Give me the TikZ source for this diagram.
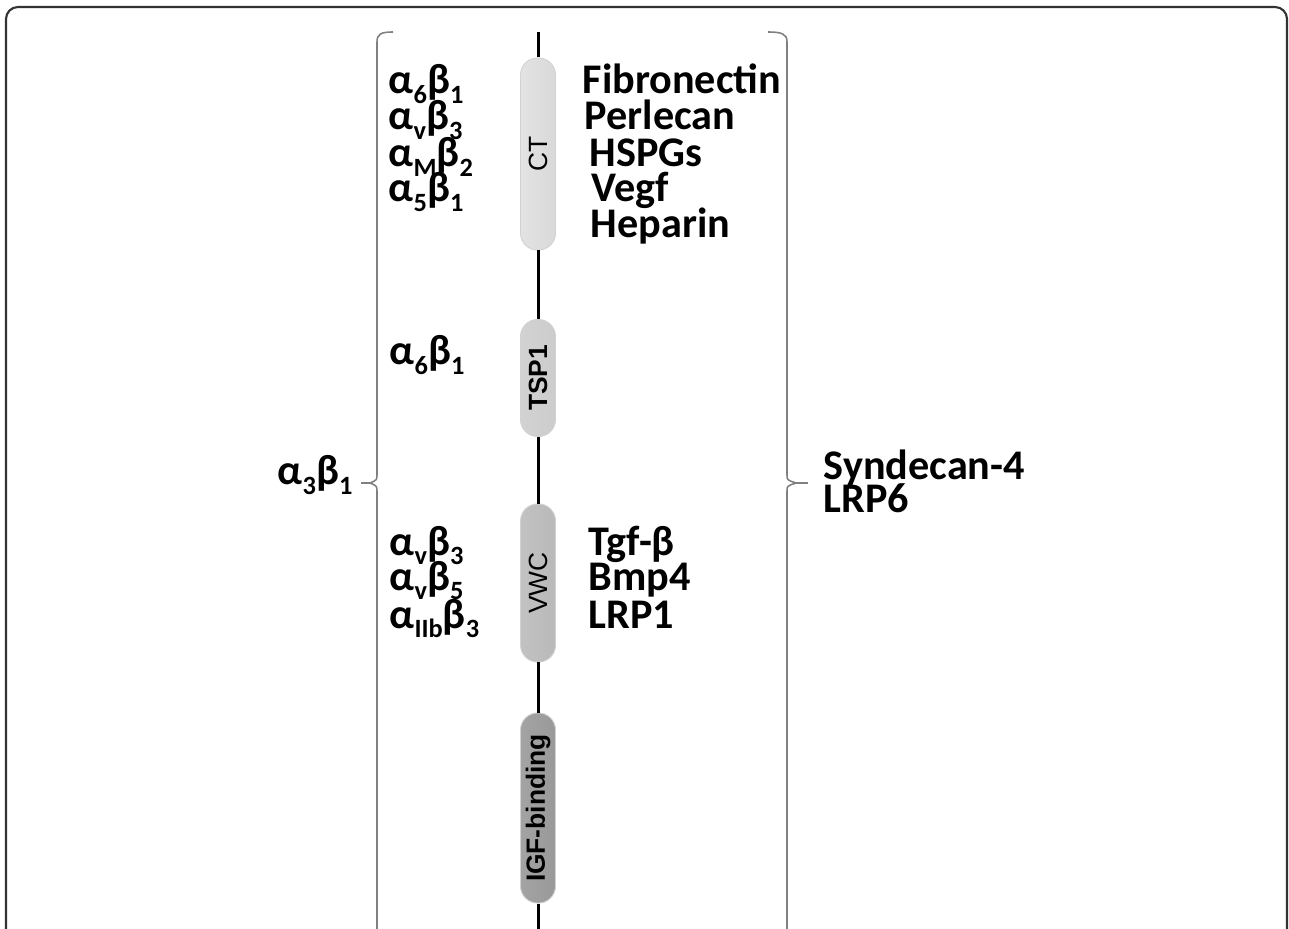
\documentclass[tikz,border=0pt]{standalone}
\usepackage{fontspec}
\setmainfont{Carlito}
\newfontfamily\capsfont{Liberation Sans}
\usetikzlibrary{positioning}
\definecolor{framegray}{HTML}{333333}
\definecolor{bracegray}{HTML}{808080}
\newcommand{\sbs}[1]{\raisebox{-2.6pt}{\fontsize{7.5}{8}\selectfont #1}}
\newcommand{\intg}[2]{α\sbs{#1}β\sbs{#2}}

\begin{document}
\begin{tikzpicture}[x=0.01cm, y=-0.01cm,
    lbl/.style={font=\bfseries\fontsize{12}{13}\selectfont, inner sep=0pt, anchor=base west},
    capsule/.style={minimum width=0.35cm, inner sep=0pt,
        rounded corners=0.17cm, draw=gray!35, line width=0.25pt,
        font=\capsfont\fontsize{7.5}{8}\selectfont},
    chain/.style={line width=0.85pt},
    brace/.style={bracegray, line width=0.45pt}]
    \useasboundingbox (0,0) rectangle (1289,928);
    \clip (0,0) rectangle (1289,928);

    % Outer frame
    \draw[framegray, line width=0.6pt, rounded corners=0.12cm] (6,7) rectangle (1287,960);

    % Domains along the chain
    \node[capsule, minimum height=1.92cm, left color=gray!22, middle color=white, right color=gray!30] (ct) at (538,154) {\rotatebox{90}{CT}};
    \node[capsule, minimum height=1.17cm, left color=gray!35, middle color=gray!6, right color=gray!40] (tsp) at (538,378) {\rotatebox{90}{\bfseries TSP1}};
    \node[capsule, minimum height=1.58cm, left color=gray!48, middle color=gray!20, right color=gray!55] (vwc) at (538,583) {\rotatebox{90}{VWC}};
    \node[capsule, minimum height=1.90cm, left color=gray!72, middle color=gray!50, right color=gray!80] (igf) at (538,808) {\rotatebox{90}{\bfseries IGF-binding}};

    % Chain
    \coordinate (spinetop) at (538,32);
    \coordinate (spinebot) at (538,940);
    \draw[chain] (spinetop) -- (ct.north);
    \draw[chain] (ct.south) -- (tsp.north);
    \draw[chain] (tsp.south) -- (vwc.north);
    \draw[chain] (vwc.south) -- (igf.north);
    \draw[chain] (igf.south) -- (spinebot);

    % Left bracket
    \draw[brace] (393,32) .. controls (381,32) and (377,34) .. (377,42) -- (377,474)
        .. controls (377,480) .. (370,483) .. controls (377,486) .. (377,492) -- (377,950);
    \draw[brace] (361,483) -- (370,483);

    % Right bracket
    \draw[brace] (768,32) .. controls (782,32) and (787,34) .. (787,42) -- (787,475)
        .. controls (787,480) .. (796,483) .. controls (787,486) .. (787,491) -- (787,950);
    \draw[brace] (796,483) -- (808,483);

    % CT partners
    \node[lbl] (lct1) at (388,94) {\intg{6}{1}};
    \node[lbl] (lct2) at (388,130) {\intg{v}{3}};
    \node[lbl] (lct3) at (388,167) {\intg{M}{2}};
    \node[lbl] (lct4) at (388,202) {\intg{5}{1}};
    \node[lbl] (rct1) at (582,94) {Fibronectin};
    \node[lbl] (rct2) at (584,130) {Perlecan};
    \node[lbl] (rct3) at (589,167) {HSPGs};
    \node[lbl] (rct4) at (591,202) {Vegf};
    \node[lbl] (rct5) at (590,238) {Heparin};

    % TSP1 partner
    \node[lbl] (ltsp) at (389,365) {\intg{6}{1}};

    % VWC partners
    \node[lbl] (lvwc1) at (389,555) {\intg{v}{3}};
    \node[lbl] (lvwc2) at (389,590) {\intg{v}{5}};
    \node[lbl] (lvwc3) at (389,628) {\intg{IIb}{3}};
    \node[lbl] (rvwc1) at (588,555) {Tgf-β};
    \node[lbl] (rvwc2) at (588,590) {Bmp4};
    \node[lbl] (rvwc3) at (588,628) {LRP1};

    % Whole-protein partners
    \node[lbl] (a3b1) at (277,485) {\intg{3}{1}};
    \node[lbl] (synd) at (823,479) {Syndecan-4};
    \node[lbl] (lrp6) at (823,512) {LRP6};
\end{tikzpicture}
\end{document}
